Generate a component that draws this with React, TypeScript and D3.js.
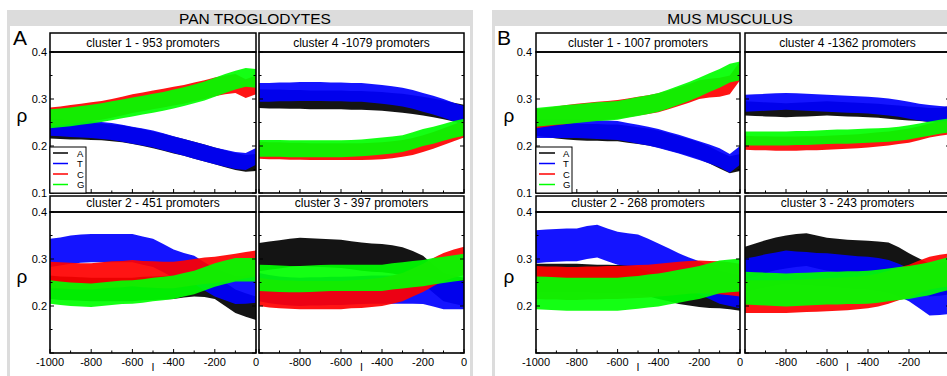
import React from "react";
import * as d3 from "d3";

// ---------- data ----------
const positions = [-1000, -950, -900, -850, -800, -750, -700, -650, -600, -550, -500, -450, -400, -350, -300, -250, -200, -150, -100, -50, 0];
const bases = ["A", "T", "C", "G"];
const baseColors = ["#000000", "#0000ff", "#ff0000", "#00ff00"];
const yMajorTicks = [0.1, 0.2, 0.3, 0.4];
const yMinorTicks = [0.15, 0.25, 0.35];
const xMajorTicks = [-1000, -800, -600, -400, -200, 0];
const xMinorTicks = [-900, -700, -500, -300, -100];
const topRowYLabels = ["0.1", "0.2", "0.3", "0.4"];
const bottomRowYLabels = ["0.2", "0.3", "0.4"];
const speciesNames = ["PAN TROGLODYTES", "MUS MUSCULUS"];
const panelLetters = ["A", "B"];
const panTitles = ["cluster 1 - 953 promoters", "cluster 4 -1079 promoters", "cluster 2 - 451 promoters", "cluster 3 - 397 promoters"];
const musTitles = ["cluster 1 - 1007 promoters", "cluster 4 -1362 promoters", "cluster 2 - 268 promoters", "cluster 3 - 243 promoters"];

// Pan troglodytes, cluster 1
const pan1A = [0.234, 0.233, 0.232, 0.232, 0.231, 0.230, 0.228, 0.226, 0.222, 0.218, 0.213, 0.208, 0.202, 0.197, 0.191, 0.185, 0.179, 0.173, 0.167, 0.163, 0.165];
const pan1T = [0.240, 0.239, 0.237, 0.236, 0.235, 0.233, 0.231, 0.227, 0.223, 0.219, 0.215, 0.209, 0.203, 0.197, 0.191, 0.185, 0.179, 0.174, 0.169, 0.167, 0.178];
const pan1C = [0.262, 0.264, 0.267, 0.270, 0.273, 0.276, 0.280, 0.285, 0.290, 0.294, 0.298, 0.302, 0.306, 0.310, 0.315, 0.320, 0.326, 0.330, 0.333, 0.322, 0.330];
const pan1G = [0.258, 0.260, 0.262, 0.265, 0.268, 0.271, 0.275, 0.279, 0.283, 0.287, 0.291, 0.295, 0.300, 0.305, 0.311, 0.317, 0.325, 0.333, 0.340, 0.346, 0.344];
const pan1Spread = [0.018, 0.018, 0.02, 0.02];
// Pan troglodytes, cluster 4
const pan4A = [0.301, 0.300, 0.300, 0.299, 0.299, 0.298, 0.298, 0.298, 0.298, 0.297, 0.297, 0.296, 0.295, 0.293, 0.291, 0.288, 0.285, 0.281, 0.277, 0.272, 0.268];
const pan4T = [0.314, 0.314, 0.315, 0.315, 0.316, 0.316, 0.316, 0.315, 0.315, 0.314, 0.314, 0.312, 0.310, 0.307, 0.304, 0.299, 0.293, 0.287, 0.280, 0.272, 0.265];
const pan4C = [0.191, 0.190, 0.190, 0.189, 0.189, 0.188, 0.188, 0.188, 0.188, 0.188, 0.188, 0.189, 0.190, 0.192, 0.195, 0.199, 0.205, 0.212, 0.220, 0.228, 0.236];
const pan4G = [0.195, 0.195, 0.195, 0.194, 0.194, 0.194, 0.194, 0.194, 0.194, 0.195, 0.196, 0.198, 0.200, 0.202, 0.205, 0.211, 0.218, 0.223, 0.229, 0.235, 0.240];
const pan4Spread = [0.02, 0.02, 0.018, 0.018];
// Pan troglodytes, cluster 2
const pan2A = [0.240, 0.238, 0.237, 0.236, 0.235, 0.235, 0.235, 0.235, 0.235, 0.237, 0.238, 0.239, 0.240, 0.243, 0.245, 0.244, 0.240, 0.225, 0.210, 0.202, 0.195];
const pan2T = [0.313, 0.316, 0.320, 0.322, 0.323, 0.323, 0.323, 0.323, 0.323, 0.318, 0.313, 0.302, 0.290, 0.283, 0.277, 0.263, 0.250, 0.242, 0.234, 0.235, 0.237];
const pan2C = [0.266, 0.265, 0.264, 0.263, 0.263, 0.265, 0.267, 0.268, 0.270, 0.268, 0.267, 0.266, 0.266, 0.269, 0.272, 0.275, 0.277, 0.280, 0.283, 0.287, 0.290];
const pan2G = [0.230, 0.227, 0.225, 0.224, 0.223, 0.225, 0.227, 0.229, 0.230, 0.232, 0.235, 0.237, 0.240, 0.245, 0.250, 0.258, 0.266, 0.272, 0.277, 0.277, 0.277];
const pan2Spread = [0.025, 0.03, 0.028, 0.025];
// Pan troglodytes, cluster 3
const pan3A = [0.304, 0.307, 0.310, 0.313, 0.315, 0.314, 0.313, 0.312, 0.311, 0.308, 0.305, 0.303, 0.302, 0.299, 0.295, 0.287, 0.277, 0.258, 0.240, 0.235, 0.230];
const pan3T = [0.240, 0.236, 0.233, 0.231, 0.230, 0.231, 0.231, 0.232, 0.232, 0.233, 0.234, 0.235, 0.235, 0.235, 0.235, 0.235, 0.234, 0.229, 0.223, 0.223, 0.223];
const pan3C = [0.230, 0.227, 0.225, 0.224, 0.223, 0.223, 0.223, 0.223, 0.223, 0.225, 0.226, 0.228, 0.230, 0.235, 0.240, 0.250, 0.260, 0.272, 0.283, 0.290, 0.296];
const pan3G = [0.260, 0.259, 0.258, 0.257, 0.257, 0.258, 0.259, 0.260, 0.260, 0.260, 0.260, 0.260, 0.260, 0.263, 0.265, 0.268, 0.270, 0.274, 0.277, 0.280, 0.283];
const pan3Spread = [0.03, 0.03, 0.03, 0.028];
// Mus musculus, cluster 1
const mus1A = [0.240, 0.237, 0.234, 0.232, 0.230, 0.229, 0.229, 0.228, 0.228, 0.225, 0.222, 0.219, 0.215, 0.209, 0.203, 0.197, 0.190, 0.181, 0.170, 0.160, 0.165];
const mus1T = [0.237, 0.237, 0.237, 0.237, 0.237, 0.236, 0.235, 0.234, 0.233, 0.229, 0.225, 0.221, 0.216, 0.210, 0.204, 0.197, 0.190, 0.183, 0.175, 0.163, 0.180];
const mus1C = [0.258, 0.261, 0.264, 0.267, 0.270, 0.272, 0.274, 0.276, 0.278, 0.281, 0.285, 0.288, 0.292, 0.298, 0.305, 0.312, 0.320, 0.323, 0.325, 0.330, 0.360];
const mus1G = [0.261, 0.263, 0.265, 0.267, 0.269, 0.271, 0.273, 0.274, 0.276, 0.280, 0.284, 0.288, 0.293, 0.300, 0.308, 0.316, 0.325, 0.335, 0.344, 0.355, 0.360];
const mus1Spread = [0.018, 0.02, 0.02, 0.02];
// Mus musculus, cluster 4
const mus4A = [0.280, 0.279, 0.278, 0.277, 0.276, 0.277, 0.278, 0.279, 0.280, 0.279, 0.278, 0.277, 0.276, 0.275, 0.273, 0.271, 0.269, 0.268, 0.266, 0.266, 0.270];
const mus4T = [0.291, 0.292, 0.293, 0.294, 0.295, 0.294, 0.293, 0.292, 0.291, 0.290, 0.289, 0.288, 0.287, 0.285, 0.283, 0.280, 0.276, 0.272, 0.269, 0.267, 0.266];
const mus4C = [0.207, 0.206, 0.206, 0.205, 0.205, 0.205, 0.206, 0.206, 0.207, 0.208, 0.209, 0.210, 0.212, 0.214, 0.216, 0.219, 0.222, 0.227, 0.233, 0.237, 0.240];
const mus4G = [0.216, 0.216, 0.216, 0.216, 0.216, 0.217, 0.217, 0.218, 0.219, 0.220, 0.220, 0.221, 0.222, 0.223, 0.224, 0.226, 0.229, 0.233, 0.237, 0.241, 0.244];
const mus4Spread = [0.015, 0.018, 0.015, 0.015];
// Mus musculus, cluster 2
const mus2A = [0.260, 0.260, 0.260, 0.260, 0.260, 0.259, 0.258, 0.258, 0.257, 0.257, 0.256, 0.251, 0.245, 0.240, 0.234, 0.231, 0.228, 0.226, 0.225, 0.223, 0.220];
const mus2T = [0.326, 0.328, 0.329, 0.330, 0.330, 0.335, 0.338, 0.330, 0.323, 0.320, 0.317, 0.308, 0.298, 0.288, 0.277, 0.268, 0.260, 0.250, 0.240, 0.235, 0.230];
const mus2C = [0.250, 0.249, 0.249, 0.248, 0.248, 0.249, 0.249, 0.250, 0.250, 0.251, 0.252, 0.253, 0.255, 0.257, 0.259, 0.261, 0.262, 0.261, 0.260, 0.258, 0.255];
const mus2G = [0.228, 0.227, 0.226, 0.225, 0.225, 0.225, 0.225, 0.225, 0.225, 0.227, 0.229, 0.232, 0.234, 0.238, 0.242, 0.246, 0.250, 0.256, 0.262, 0.264, 0.266];
const mus2Spread = [0.03, 0.035, 0.035, 0.035];
// Mus musculus, cluster 3
const mus3A = [0.291, 0.298, 0.305, 0.311, 0.315, 0.318, 0.320, 0.315, 0.310, 0.308, 0.306, 0.305, 0.304, 0.302, 0.300, 0.290, 0.277, 0.266, 0.255, 0.257, 0.260];
const mus3T = [0.266, 0.270, 0.275, 0.279, 0.283, 0.281, 0.280, 0.278, 0.277, 0.275, 0.273, 0.271, 0.270, 0.267, 0.263, 0.255, 0.245, 0.230, 0.215, 0.216, 0.218];
const mus3C = [0.220, 0.220, 0.220, 0.220, 0.220, 0.221, 0.222, 0.223, 0.224, 0.225, 0.226, 0.228, 0.230, 0.234, 0.240, 0.247, 0.253, 0.262, 0.270, 0.274, 0.277];
const mus3G = [0.238, 0.237, 0.236, 0.235, 0.234, 0.235, 0.236, 0.237, 0.238, 0.238, 0.239, 0.239, 0.240, 0.242, 0.245, 0.248, 0.250, 0.254, 0.258, 0.264, 0.270];
const mus3Spread = [0.035, 0.035, 0.035, 0.035];

// ---------- layout ----------
const W = 947;
const H = 376;
const FONT = "'Liberation Sans', Arial, Helvetica, sans-serif";

const panelLayouts = [
  { x0: 7, x1: 473, titleCx: 255, letterX: 13, rhoX: 22, yLabelX: 47, legendLine: [53, 68], legendText: 77, cols: [[50, 256], [259, 464]] },
  { x0: 492, x1: 980, titleCx: 730, letterX: 497, rhoX: 509, yLabelX: 532, legendLine: [539, 555], legendText: 563, cols: [[536, 740], [745, 950]] },
];
const rowLayouts = [
  { titleTop: 33, plotTop: 52, plotBot: 193, rhoY: 122, labels: topRowYLabels },
  { titleTop: 196, plotTop: 212, plotBot: 353, rhoY: 283, labels: bottomRowYLabels },
];

const panels = [
  {
    titles: panTitles,
    series: [
      [pan1A, pan1T, pan1C, pan1G],
      [pan4A, pan4T, pan4C, pan4G],
      [pan2A, pan2T, pan2C, pan2G],
      [pan3A, pan3T, pan3C, pan3G],
    ],
    spreads: [pan1Spread, pan4Spread, pan2Spread, pan3Spread],
  },
  {
    titles: musTitles,
    series: [
      [mus1A, mus1T, mus1C, mus1G],
      [mus4A, mus4T, mus4C, mus4G],
      [mus2A, mus2T, mus2C, mus2G],
      [mus3A, mus3T, mus3C, mus3G],
    ],
    spreads: [mus1Spread, mus4Spread, mus2Spread, mus3Spread],
  },
];

function Subplot({ pi, si }: { pi: number; si: number }) {
  const pl = panelLayouts[pi];
  const row = rowLayouts[si < 2 ? 0 : 1];
  const colIdx = si % 2;
  const [cx0, cx1] = pl.cols[colIdx];
  const x = d3.scaleLinear().domain([-1000, 0]).range([cx0, cx1]);
  const y = d3.scaleLinear().domain([0.1, 0.4]).range([row.plotBot, row.plotTop]);
  const pd = panels[pi];
  const series = pd.series[si];
  const spreads = pd.spreads[si];
  const clipId = `clip-${pi}-${si}`;
  const boxX0 = cx0;
  const boxX1 = Math.min(cx1, W + 5);
  const isTop = si < 2;
  const isLeft = colIdx === 0;

  return (
    <g>
      <defs>
        <clipPath id={clipId}>
          <rect x={cx0} y={row.plotTop} width={cx1 - cx0} height={row.plotBot - row.plotTop} />
        </clipPath>
      </defs>
      <g clipPath={`url(#${clipId})`}>
        {series.map((vals, k) => {
          const s = spreads[k];
          const area = d3
            .area<number>()
            .x((_, i) => x(positions[i]))
            .y0((v) => y(v - s))
            .y1((v) => y(v + s));
          return <path key={k} d={area(vals) || ""} fill={baseColors[k]} fillOpacity={0.92} stroke="none" />;
        })}
      </g>
      {/* title box */}
      <rect x={boxX0} y={row.titleTop} width={boxX1 - boxX0} height={row.plotTop - row.titleTop} fill="#fff" stroke="#000" strokeWidth={1.5} />
      <text x={(cx0 + cx1) / 2} y={row.plotTop - 5} textAnchor="middle" fontFamily={FONT} fontSize={12} fill="#000">
        {pd.titles[si]}
      </text>
      {/* frame */}
      <rect x={cx0} y={row.plotTop} width={cx1 - cx0} height={row.plotBot - row.plotTop} fill="none" stroke="#000" strokeWidth={1.6} />
      {/* y ticks both sides */}
      {yMajorTicks.map((t) => (
        <g key={`ym${t}`}>
          <line x1={cx0} x2={cx0 + 4} y1={y(t)} y2={y(t)} stroke="#000" strokeWidth={1} />
          <line x1={cx1} x2={cx1 - 4} y1={y(t)} y2={y(t)} stroke="#000" strokeWidth={1} />
        </g>
      ))}
      {yMinorTicks.map((t) => (
        <g key={`yn${t}`}>
          <line x1={cx0} x2={cx0 + 2.5} y1={y(t)} y2={y(t)} stroke="#000" strokeWidth={1} />
          <line x1={cx1} x2={cx1 - 2.5} y1={y(t)} y2={y(t)} stroke="#000" strokeWidth={1} />
        </g>
      ))}
      {/* x ticks */}
      {xMajorTicks.map((t) => (
        <line key={`xm${t}`} x1={x(t)} x2={x(t)} y1={row.plotBot} y2={row.plotBot - 4} stroke="#000" strokeWidth={1} />
      ))}
      {xMinorTicks.map((t) => (
        <line key={`xn${t}`} x1={x(t)} x2={x(t)} y1={row.plotBot} y2={row.plotBot - 2.5} stroke="#000" strokeWidth={1} />
      ))}
      {/* y labels */}
      {isLeft &&
        row.labels.map((lab) => (
          <text key={lab} x={pl.yLabelX} y={y(+lab) + 4} textAnchor="end" fontFamily={FONT} fontSize={11} fill="#000">
            {lab}
          </text>
        ))}
      {/* x labels */}
      {!isTop &&
        xMajorTicks
          .filter((t) => (isLeft || t !== -1000) && x(t) < W - 6)
          .map((t) => (
            <text key={t} x={x(t)} y={row.plotBot + 13} textAnchor="middle" fontFamily={FONT} fontSize={11} fill="#000">
              {t}
            </text>
          ))}
      {!isTop && (
        <text x={(cx0 + cx1) / 2} y={371} textAnchor="middle" fontFamily={FONT} fontSize={11} fill="#000">
          l
        </text>
      )}
      {/* legend */}
      {si === 0 && (
        <g>
          <rect x={cx0} y={147} width={36} height={row.plotBot - 147} fill="#fff" stroke="#000" strokeWidth={1} />
          {bases.map((b, k) => (
            <g key={b}>
              <line x1={pl.legendLine[0]} x2={pl.legendLine[1]} y1={153 + k * 10.5} y2={153 + k * 10.5} stroke={baseColors[k]} strokeWidth={1.5} />
              <text x={pl.legendText} y={153 + k * 10.5 + 3.5} fontFamily={FONT} fontSize={9.5} fill="#000">
                {b}
              </text>
            </g>
          ))}
        </g>
      )}
    </g>
  );
}

export default function App() {
  return (
    <svg width={W} height={H} style={{ position: "absolute", left: 0, top: 0, background: "#fff" }}>
      <rect x={0} y={0} width={W} height={H} fill="#fff" />
      {panelLayouts.map((pl, pi) => (
        <g key={pi}>
          <rect x={pl.x0} y={10} width={pl.x1 - pl.x0} height={16} fill="#dcdcdc" />
          <rect x={pl.x0} y={10} width={3} height={H} fill="#dcdcdc" />
          <rect x={pl.x1 - 3} y={10} width={3} height={H} fill="#dcdcdc" />
          <text x={pl.titleCx} y={23.5} textAnchor="middle" fontFamily={FONT} fontSize={15.5} fill="#000">
            {speciesNames[pi]}
          </text>
          <text x={pl.letterX} y={45} fontFamily={FONT} fontSize={21} fill="#000">
            {panelLetters[pi]}
          </text>
          {rowLayouts.map((r, ri) => (
            <text key={ri} x={pl.rhoX} y={r.rhoY} textAnchor="middle" fontFamily={FONT} fontSize={19} fill="#000">
              ρ
            </text>
          ))}
          {[0, 1, 2, 3].map((si) => (
            <Subplot key={si} pi={pi} si={si} />
          ))}
        </g>
      ))}
    </svg>
  );
}
